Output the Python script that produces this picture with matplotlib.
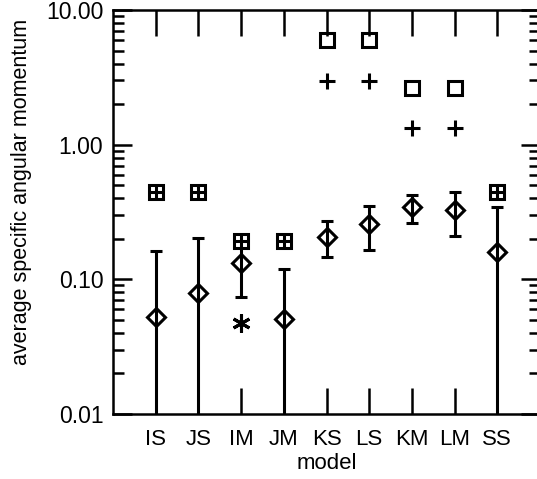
import matplotlib
matplotlib.use("Agg")
import matplotlib.pyplot as plt
from matplotlib.ticker import FixedLocator, FixedFormatter, LogLocator, NullFormatter
import numpy as np

plt.rcParams['font.family'] = ['Liberation Sans', 'DejaVu Sans']

models = ["IS", "JS", "IM", "JM", "KS", "LS", "KM", "LM", "SS"]

# diamonds with error bars
mean_j = [0.0528, 0.0789, 0.1315, 0.0506, 0.2075, 0.2576, 0.343, 0.327, 0.159]
err_hi = [0.161, 0.204, 0.19, 0.119, 0.272, 0.352, 0.424, 0.448, 0.343]
err_lo = [0.001, 0.001, 0.0736, 0.001, 0.147, 0.165, 0.264, 0.211, 0.001]

# open squares and plus signs (KS, LS, KM, LM)
sq_models = ["KS", "LS", "KM", "LM"]
sq_vals = [5.98, 5.98, 2.65, 2.65]
plus_vals = [2.97, 2.97, 1.32, 1.32]

# boxed plus markers
bp_models = ["IS", "JS", "IM", "JM", "SS"]
bp_vals = [0.448, 0.448, 0.194, 0.194, 0.448]

# asterisk
ast_models = ["IM"]
ast_vals = [0.0478]

pos = {m: i + 1 for i, m in enumerate(models)}
x = np.array([pos[m] for m in models])

fig = plt.figure(figsize=(5.37, 4.79), dpi=100)
ax = fig.add_axes([113 / 537, 1 - 414 / 479, 427 / 537, 404 / 479])

lw = 2.2
yerr = [np.array(mean_j) - np.array(err_lo), np.array(err_hi) - np.array(mean_j)]
ax.errorbar(x, mean_j, yerr=yerr, fmt='none', ecolor='black', elinewidth=lw,
            capsize=4.5, capthick=lw, zorder=2)
ax.plot(x, mean_j, linestyle='none', marker='D', ms=9.5, mfc='none', mec='black',
        mew=lw, zorder=3)

xs = [pos[m] for m in sq_models]
ax.plot(xs, sq_vals, linestyle='none', marker='s', ms=9.5, mfc='none', mec='black', mew=lw)
ax.plot(xs, plus_vals, linestyle='none', marker='+', ms=12, mec='black', mew=lw)

xb = [pos[m] for m in bp_models]
ax.plot(xb, bp_vals, linestyle='none', marker='s', ms=9.5, mfc='white', mec='black', mew=lw, zorder=4)
ax.plot(xb, bp_vals, linestyle='none', marker='+', ms=9.5, mec='black', mew=lw, zorder=5)

xa = [pos[m] for m in ast_models]
ax.plot(xa, ast_vals, linestyle='none', marker=(6, 2, 0), ms=13, mec='black', mew=lw)

ax.set_yscale('log')
ax.set_ylim(0.01, 10)
ax.set_xlim(0, 10)

ax.yaxis.set_major_locator(FixedLocator([0.01, 0.1, 1, 10]))
ax.yaxis.set_major_formatter(FixedFormatter(["0.01", "0.10", "1.00", "10.00"]))
ax.yaxis.set_minor_locator(LogLocator(base=10, subs=np.arange(2, 10)))
ax.yaxis.set_minor_formatter(NullFormatter())
ax.set_xticks(x)
ax.set_xticklabels(models)

ax.tick_params(axis='y', which='major', direction='in', length=14, width=1.8,
               left=True, right=True, labelsize=16.5, pad=7)
ax.tick_params(axis='y', which='minor', direction='in', length=8, width=1.8,
               left=True, right=True)
ax.tick_params(axis='x', which='major', direction='in', length=19, width=1.8,
               bottom=True, top=True, labelsize=16, pad=11)
ax.tick_params(axis='x', which='minor', bottom=False, top=False)

for s in ax.spines.values():
    s.set_linewidth(1.8)

ax.set_xlabel("model", fontsize=16, labelpad=2)
ax.set_ylabel("average specific angular momentum", fontsize=15.5)
ax.yaxis.set_label_coords(-0.19, 0.55)

fig.savefig("out.png", dpi=100)
